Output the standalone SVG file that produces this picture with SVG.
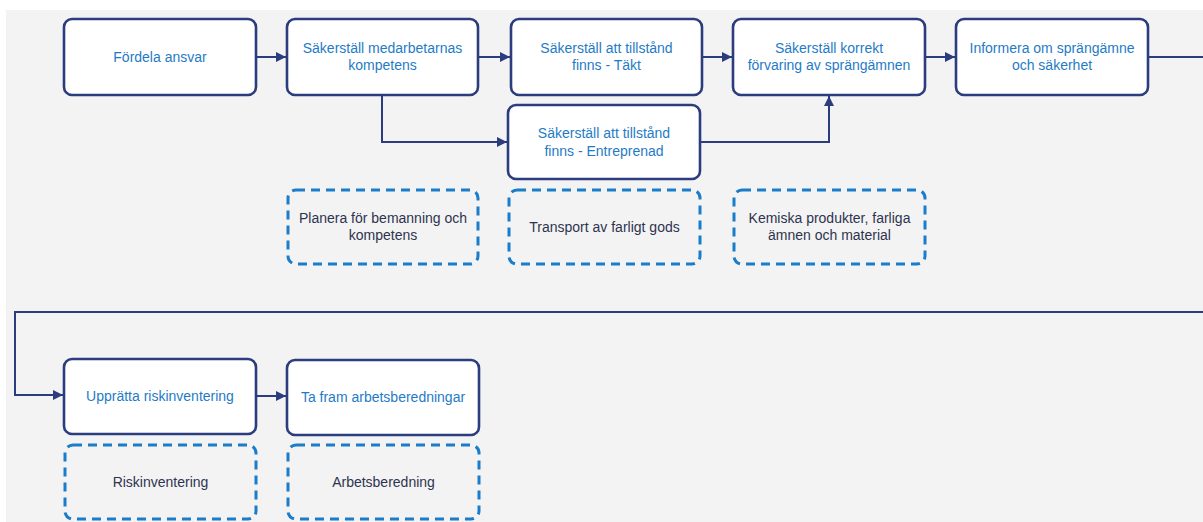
<svg xmlns="http://www.w3.org/2000/svg" width="1203" height="522" viewBox="0 0 1203 522">
<style>
.node rect{fill:#ffffff;stroke:#2b3d7e;stroke-width:2.6}
.node text{fill:#1f7bc6;font-family:"Liberation Sans",Arial,sans-serif;font-size:14px;text-anchor:middle}
.note rect{fill:none;stroke:#1b7cc9;stroke-width:3;stroke-dasharray:9 6}
.note text{fill:#2e3350;font-family:"Liberation Sans",Arial,sans-serif;font-size:14px;text-anchor:middle}
.conn path{fill:none;stroke:#2b3d7e;stroke-width:2}
</style>
<defs>
<marker id="arr" viewBox="0 0 10 10" refX="10" refY="5" markerWidth="5" markerHeight="5" orient="auto" markerUnits="strokeWidth">
<path d="M0,0 L10,5 L0,10 Z" fill="#2b3d7e"/>
</marker>
</defs>
<rect x="0" y="0" width="1203" height="522" fill="#ffffff"/>
<rect x="6" y="10" width="1197" height="512" fill="#f3f3f3"/>

<g class="conn">
<path d="M256,57 H286" marker-end="url(#arr)"/>
<path d="M478,57 H510" marker-end="url(#arr)"/>
<path d="M702,57 H732" marker-end="url(#arr)"/>
<path d="M925,57 H955" marker-end="url(#arr)"/>
<path d="M382,95 V142 H507" marker-end="url(#arr)"/>
<path d="M700,142 H829 V96" marker-end="url(#arr)"/>
<path d="M1148,57 H1212 V312 H15 V395 H63" marker-end="url(#arr)"/>
<path d="M256,396 H286" marker-end="url(#arr)"/>
</g>

<g id="n1" class="node"><rect x="64" y="19" width="192" height="76" rx="8"/><text x="160" y="62">Fördela ansvar</text></g>
<g id="n2" class="node"><rect x="287" y="19" width="191" height="76" rx="8"/><text x="382.5" y="53">Säkerställ medarbetarnas</text><text x="382.5" y="70">kompetens</text></g>
<g id="n3" class="node"><rect x="511" y="19" width="191" height="76" rx="8"/><text x="606.5" y="53">Säkerställ att tillstånd</text><text x="606.5" y="70">finns - Täkt</text></g>
<g id="n4" class="node"><rect x="508" y="105" width="192" height="74" rx="8"/><text x="604" y="138">Säkerställ att tillstånd</text><text x="604" y="156">finns - Entreprenad</text></g>
<g id="n5" class="node"><rect x="733" y="19" width="192" height="76" rx="8"/><text x="829" y="53">Säkerställ korrekt</text><text x="829" y="70">förvaring av sprängämnen</text></g>
<g id="n6" class="node"><rect x="956" y="19" width="192" height="76" rx="8"/><text x="1052" y="53">Informera om sprängämne</text><text x="1052" y="70">och säkerhet</text></g>
<g id="n7" class="node"><rect x="64" y="359" width="192" height="75" rx="8"/><text x="160" y="401">Upprätta riskinventering</text></g>
<g id="n8" class="node"><rect x="287" y="360" width="192" height="75" rx="8"/><text x="383" y="402">Ta fram arbetsberedningar</text></g>

<g id="d1" class="note"><rect x="288" y="190" width="190" height="74" rx="8"/><text x="383" y="223">Planera för bemanning och</text><text x="383" y="240">kompetens</text></g>
<g id="d2" class="note"><rect x="509" y="190" width="191" height="74" rx="8"/><text x="604.5" y="232">Transport av farligt gods</text></g>
<g id="d3" class="note"><rect x="734" y="190" width="191" height="74" rx="8"/><text x="829.5" y="223">Kemiska produkter, farliga</text><text x="829.5" y="240">ämnen och material</text></g>
<g id="d4" class="note"><rect x="65" y="445" width="191" height="74" rx="8"/><text x="160.5" y="487">Riskinventering</text></g>
<g id="d5" class="note"><rect x="288" y="445" width="191" height="74" rx="8"/><text x="383.5" y="487">Arbetsberedning</text></g>
</svg>
